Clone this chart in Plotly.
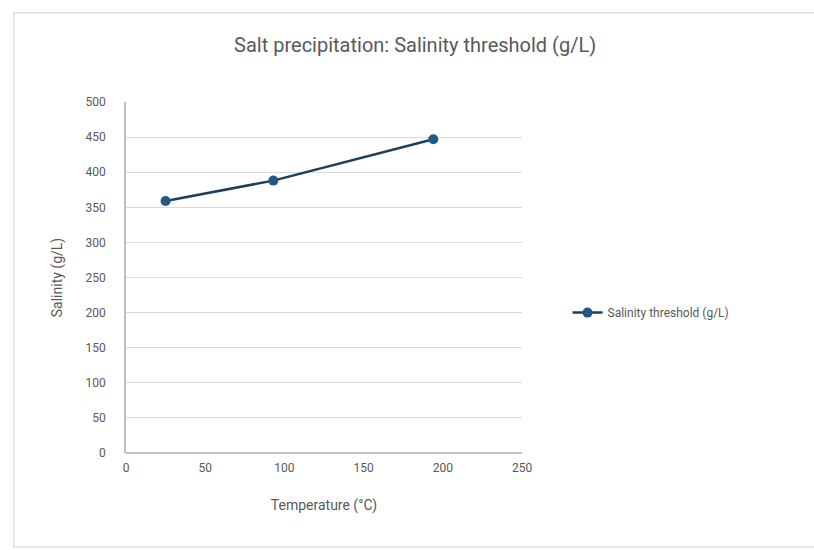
import plotly.graph_objects as go

temperature_c = [25, 93, 194]
salinity_threshold = [359, 388, 447]
series_name = "Salinity threshold (g/L)"
title_text = "Salt precipitation: Salinity threshold (g/L)"
x_title = "Temperature (°C)"
y_title = "Salinity (g/L)"

fig = go.Figure()
fig.add_trace(go.Scatter(
    x=temperature_c, y=salinity_threshold, mode="lines+markers", name=series_name,
    line=dict(color="#1d3f5e", width=2.5),
    marker=dict(color="#215a86", size=10, symbol="circle"),
))

fig.update_layout(
    width=814, height=550,
    paper_bgcolor="white", plot_bgcolor="white",
    margin=dict(l=126, r=292, t=102, b=97),
    font=dict(family="Roboto, sans-serif", color="#595959"),
    title=dict(text=title_text, x=0.51, xanchor="center", y=0.918, yanchor="middle",
               font=dict(size=20, color="#595959")),
    legend=dict(x=1.115, y=0.40, xanchor="left", yanchor="middle",
                font=dict(size=12, color="#595959"), bgcolor="rgba(0,0,0,0)"),
    showlegend=True,
)
fig.update_xaxes(range=[0, 250], dtick=50, tick0=0, showgrid=False, zeroline=False,
                 showline=False, ticks="", ticklabelstandoff=6,
                 tickfont=dict(size=12, color="#595959"),
                 title=dict(text=x_title, font=dict(size=14, color="#595959"), standoff=26))
fig.update_yaxes(range=[0, 500], dtick=50, tick0=0, showgrid=True, gridcolor="#d9d9d9",
                 gridwidth=1, zeroline=True, zerolinecolor="#bfbfbf", zerolinewidth=1.5,
                 showline=True, linecolor="#bfbfbf", linewidth=1.5, ticks="",
                 ticklabelstandoff=16,
                 tickfont=dict(size=12, color="#595959"),
                 title=dict(text=y_title, font=dict(size=14, color="#595959"), standoff=20))
fig.add_shape(type="rect", xref="paper", yref="paper", x0=-0.283, x1=2.0, y0=-0.268, y1=1.254,
              line=dict(color="#e0e0e0", width=1.5))
fig.write_html("out.html")
